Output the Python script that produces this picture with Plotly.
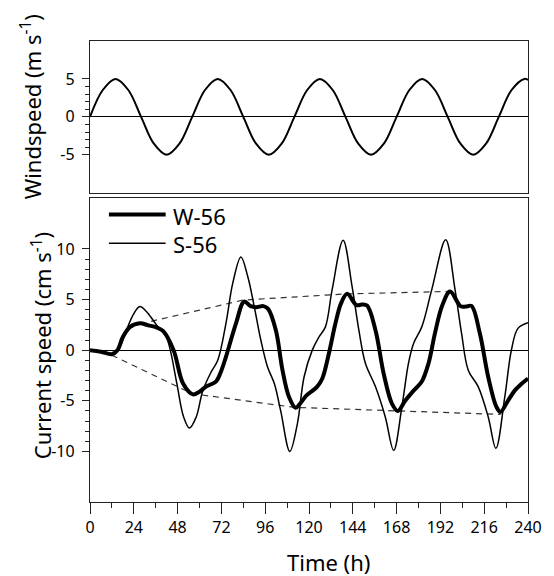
import plotly.graph_objects as go

# Wind forcing (m/s), sampled every 7 h
wind_t = [0, 7, 14, 21, 28, 35, 42, 49, 56, 63, 70, 77, 84, 91, 98, 105, 112, 119,
          126, 133, 140, 147, 154, 161, 168, 175, 182, 189, 196, 203, 210, 217, 224,
          231, 238, 240]
wind_v = [0, 3.54, 5, 3.54, 0, -3.54, -5, -3.54, 0, 3.54, 5, 3.54, 0, -3.54, -5, -3.54,
          0, 3.54, 5, 3.54, 0, -3.54, -5, -3.54, 0, 3.54, 5, 3.54, 0, -3.54, -5, -3.54,
          0, 3.54, 5, 4.87]

# S-56 current (cm/s)
s56_t = [0, 6, 11.8, 15.5, 20, 24, 27.3, 31, 36.4, 41.8, 44, 47.6, 51.3, 54.5, 58.2,
         61.8, 66.4, 70, 74.5, 78.2, 82.7, 86.4, 90, 93.6, 97.3, 101, 104.5, 109.5,
         113.6, 117.3, 121.8, 125.5, 129, 132.7, 138.7, 143.6, 147.3, 150.9, 156.4,
         161.8, 166.4, 170.9, 174.5, 177.3, 181.8, 187.3, 194.9, 200, 203.6, 207.3,
         212.7, 218.2, 222.4, 227.3, 230.9, 234.5, 240]
s56_v = [0, -0.1, -0.35, 0, 2.0, 3.6, 4.3, 3.8, 2.5, 1.3, 0, -3.3, -6.6, -7.7, -6.6,
         -4.0, -2.15, -1.0, 2.65, 6.6, 9.2, 7.3, 4.3, 1.0, -1.66, -3.3, -6.0, -10.0,
         -7.3, -2.65, 0, 1.3, 2.3, 6.0, 10.86, 6.3, 2.0, -1.3, -3.6,
         -6.6, -9.9, -5.6, -1.3, 0.66, 2.3, 6.0, 10.9, 6.0, 1.66, -2.0,
         -3.6, -6.6, -9.7, -4.6, 0, 2.15, 2.7]

# W-56 current (cm/s)
w56_t = [0, 6, 12, 15, 18, 22, 27.3, 32, 36.4, 40, 45.8, 51, 56.4, 60, 63.6, 69, 72,
         74.5, 80, 84.5, 88, 91, 95, 97.5, 101.8, 105.5, 109, 112.7, 115, 118.5, 122,
         124.5, 127.3, 130.9, 134.5, 137.5, 140.9, 146, 149, 151.8, 156.4, 160.9,
         165.5, 168.7, 172.7, 177.3, 181.8, 185.5, 189, 193, 197.3, 203, 206, 209,
         213.6, 218.2, 222.7, 224.9, 229, 232.7, 236, 240]
w56_v = [0, -0.15, -0.4, 0, 1.3, 2.3, 2.65, 2.45, 2.25, 1.9, 0, -3.3, -4.37, -4.1, -3.6,
         -3.1, -2.0, -0.66, 2.65, 4.8, 4.35, 4.25, 4.35, 4.1, 2.0, -2.0, -4.6, -5.7,
         -5.3, -4.5, -4.0, -3.6, -2.8, -0.33, 2.65, 4.6, 5.56, 4.45, 4.5, 4.4, 2.0,
         -2.3, -5.3, -6.0, -5.0, -4.0, -3.1, -1.3, 1.66, 4.4, 5.8, 4.35, 4.3, 4.37,
         1.66, -2.65, -5.6, -6.1, -5.0, -4.0, -3.4, -2.8]

# Envelope of the W-56 response
env_up_t = [33.5, 84, 140, 196]
env_up_v = [2.85, 4.95, 5.55, 5.8]
env_lo_t = [12, 56, 112, 168, 225]
env_lo_v = [-0.5, -4.3, -5.65, -6.0, -6.35]

x_ticks = [0, 24, 48, 72, 96, 120, 144, 168, 192, 216, 240]
x_minor = [12, 36, 60, 84, 108, 132, 156, 180, 204, 228]
wind_ticks = [-5, 0, 5]
wind_minor = [-4, -3, -2, -1, 1, 2, 3, 4]
cur_ticks = [-10, -5, 0, 5, 10]
cur_minor = [v for v in range(-9, 10) if v % 5 != 0]

W, H = 554, 576
ML, MR, MT, MB = 90, 24, 41, 74
PW, PH = W - ML - MR, H - MT - MB


def px(x):
    return (x - ML) / PW


def py(y):
    return (H - MB - y) / PH


FONT = "Noto Sans"
AX = "#222222"

fig = go.Figure()

fig.add_trace(go.Scatter(x=wind_t, y=wind_v, mode="lines", line_shape="spline",
                         line=dict(color="black", width=2), xaxis="x", yaxis="y",
                         showlegend=False))

fig.add_trace(go.Scatter(x=env_up_t, y=env_up_v, mode="lines",
                         line=dict(color="#333333", width=1.2, dash="6px,5px"),
                         xaxis="x2", yaxis="y2", showlegend=False))
fig.add_trace(go.Scatter(x=env_lo_t, y=env_lo_v, mode="lines",
                         line=dict(color="#333333", width=1.2, dash="6px,5px"),
                         xaxis="x2", yaxis="y2", showlegend=False))
fig.add_trace(go.Scatter(x=s56_t, y=s56_v, mode="lines", line_shape="spline",
                         line=dict(color="black", width=1.5), name="S-56",
                         xaxis="x2", yaxis="y2", showlegend=False))
fig.add_trace(go.Scatter(x=w56_t, y=w56_v, mode="lines", line_shape="spline",
                         line=dict(color="black", width=4), name="W-56",
                         xaxis="x2", yaxis="y2", showlegend=False))

top_bottom = py(192.7)
bot_top = py(198.3)

common_y = dict(showline=True, mirror=True, linecolor=AX, linewidth=1.3,
                ticks="outside", ticklen=7, tickwidth=1.2, tickcolor=AX,
                showgrid=False, zeroline=True, zerolinecolor="black",
                zerolinewidth=1, tickfont=dict(size=16, family=FONT, color="black"),
                ticklabelstandoff=4)

fig.update_layout(
    width=W, height=H,
    margin=dict(l=ML, r=MR, t=MT, b=MB),
    paper_bgcolor="white", plot_bgcolor="white",
    font=dict(family=FONT, color="black"),
    xaxis=dict(domain=[0, 1], range=[0, 240], anchor="y", showline=True, mirror=True,
               linecolor=AX, linewidth=1.3, ticks="", showticklabels=False,
               showgrid=False, zeroline=False),
    yaxis=dict(domain=[top_bottom, 1], range=[-10, 10], anchor="x",
               tickvals=wind_ticks, ticktext=[str(v) for v in wind_ticks],
               minor=dict(tickvals=wind_minor, ticks="outside", ticklen=4,
                          tickwidth=1, tickcolor=AX),
               **common_y),
    xaxis2=dict(domain=[0, 1], range=[0, 240], anchor="y2", showline=True, mirror=True,
                linecolor=AX, linewidth=1.3, ticks="outside", ticklen=11, tickwidth=1.2,
                tickcolor=AX, tickvals=x_ticks, ticktext=[str(v) for v in x_ticks],
                minor=dict(tickvals=x_minor, ticks="outside", ticklen=5, tickwidth=1,
                           tickcolor=AX),
                showgrid=False, zeroline=False,
                tickfont=dict(size=16, family=FONT, color="black")),
    yaxis2=dict(domain=[0, bot_top], range=[-15, 15], anchor="x2",
                tickvals=cur_ticks, ticktext=[str(v) for v in cur_ticks],
                minor=dict(tickvals=cur_minor, ticks="outside", ticklen=4,
                           tickwidth=1, tickcolor=AX),
                **common_y),
)

# Hand-drawn legend in the lower panel
legend_rows = [("W-56", 4, 214.5, 216), ("S-56", 1.5, 243.3, 244)]
for label, lw, ly, ty in legend_rows:
    fig.add_shape(type="line", xref="paper", yref="paper",
                  x0=px(109), x1=px(166), y0=py(ly), y1=py(ly),
                  line=dict(color="black", width=lw))
    fig.add_annotation(text=label, xref="paper", yref="paper", x=px(171), y=py(ty),
                       xanchor="left", yanchor="middle", showarrow=False,
                       font=dict(size=22, family=FONT, color="black"))

# Axis titles
fig.add_annotation(text="Windspeed (m s<sup>-1</sup>)", xref="paper", yref="paper",
                   x=px(30), y=py(107), textangle=-90, showarrow=False,
                   xanchor="center", yanchor="middle",
                   font=dict(size=22, family=FONT, color="black"))
fig.add_annotation(text="Current speed (cm s<sup>-1</sup>)", xref="paper", yref="paper",
                   x=px(41), y=py(346), textangle=-90, showarrow=False,
                   xanchor="center", yanchor="middle",
                   font=dict(size=22, family=FONT, color="black"))
fig.add_annotation(text="Time (h)", xref="paper", yref="paper",
                   x=px(330), y=py(562), showarrow=False,
                   xanchor="center", yanchor="middle",
                   font=dict(size=22, family=FONT, color="black"))

fig.write_html("out.html")
